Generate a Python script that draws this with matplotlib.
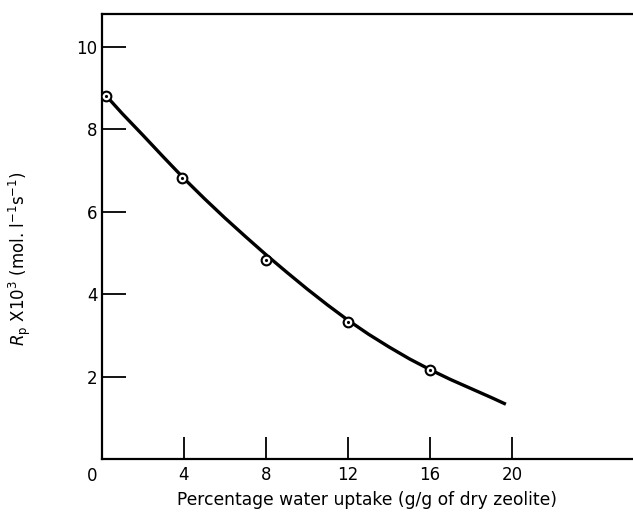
import matplotlib

matplotlib.use("Agg")

import matplotlib.pyplot as plt

# measured points
water_uptake = [0.2, 3.9, 8.0, 12.0, 16.0]
rate_points = [8.82, 6.83, 4.83, 3.33, 2.16]

# fitted curve
curve_x = [0.2, 1.0, 2.0, 3.0, 4.0, 5.0, 6.0, 7.0, 8.0, 9.0, 10.0, 11.0,
           12.0, 13.0, 14.0, 15.0, 16.0, 17.0, 18.0, 19.0, 19.7]
curve_y = [8.82, 8.38, 7.86, 7.33, 6.81, 6.32, 5.85, 5.40, 4.96, 4.54, 4.13, 3.74,
           3.37, 3.03, 2.72, 2.43, 2.17, 1.93, 1.71, 1.49, 1.33]

x_ticks = [4, 8, 12, 16, 20]
y_ticks = [2, 4, 6, 8, 10]

fig = plt.figure(figsize=(6.33, 5.12), dpi=100)
ax = fig.add_axes([0.161, 0.1035, 0.839, 0.869])

ax.plot(curve_x, curve_y, color="black", lw=2.4, solid_capstyle="butt", zorder=2)
ax.plot(water_uptake, rate_points, "o", ms=7, mfc="white", mec="black", mew=1.5, zorder=3)
ax.plot(water_uptake, rate_points, ".", ms=2.5, color="black", zorder=4)

ax.set_xlim(0, 25.9)
ax.set_ylim(0, 10.8)

ax.spines["right"].set_visible(False)
for side in ("left", "bottom", "top"):
    ax.spines[side].set_linewidth(1.6)

ax.set_xticks(x_ticks)
ax.set_yticks(y_ticks)
ax.tick_params(axis="x", direction="in", length=16, width=1.3, pad=5, labelsize=12)
ax.tick_params(axis="y", direction="in", length=17, width=1.3, pad=3, labelsize=12)
ax.text(-0.5, -0.2, "0", ha="center", va="top", fontsize=12)

ax.set_xlabel("Percentage water uptake (g/g of dry zeolite)", fontsize=12.3, labelpad=5)
ax.set_ylabel(r"$R_\mathrm{p}$ X10$^3$ (mol. l$^{-1}$s$^{-1}$)", fontsize=12)
ax.yaxis.set_label_coords(-0.13, 0.45)

fig.savefig("out.png", dpi=100)
